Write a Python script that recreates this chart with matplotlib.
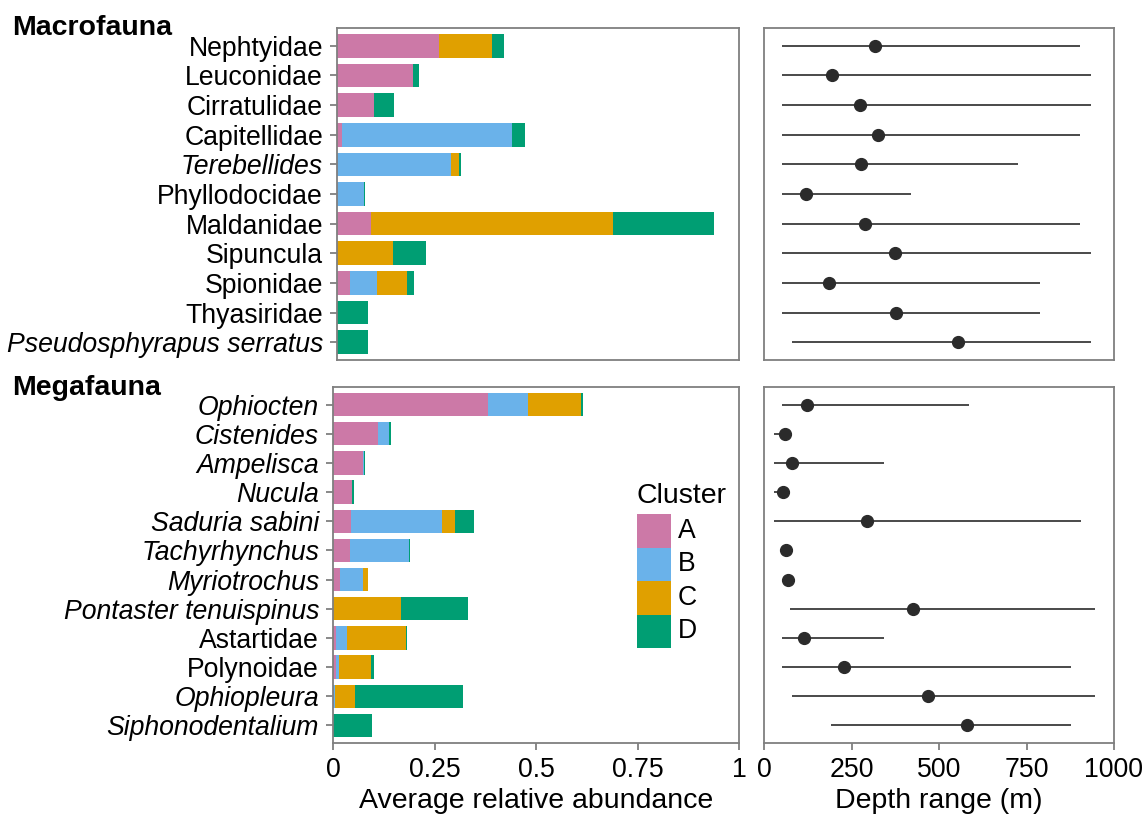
import numpy as np
import matplotlib
matplotlib.use('Agg')
import matplotlib.pyplot as plt
from matplotlib.patches import Rectangle

plt.rcParams['font.family'] = ['Liberation Sans', 'DejaVu Sans']

# cluster colours
clusters = ['A', 'B', 'C', 'D']
colors = ['#CC79A7', '#6AB2EA', '#E0A000', '#009E73']

# macrofauna taxa (top to bottom)
macro_taxa = ['Nephtyidae', 'Leuconidae', 'Cirratulidae', 'Capitellidae',
              'Terebellides', 'Phyllodocidae', 'Maldanidae', 'Sipuncula',
              'Spionidae', 'Thyasiridae', 'Pseudosphyrapus serratus']
macro_italic = [False, False, False, False, True, False, False, False,
                False, False, True]
macro_A = [0.254, 0.189, 0.091, 0.012, 0.000, 0.000, 0.084, 0.000, 0.032, 0.000, 0.000]
macro_B = [0.000, 0.000, 0.000, 0.424, 0.283, 0.066, 0.000, 0.000, 0.067, 0.000, 0.000]
macro_C = [0.132, 0.000, 0.000, 0.000, 0.020, 0.000, 0.603, 0.139, 0.075, 0.000, 0.000]
macro_D = [0.030, 0.015, 0.052, 0.032, 0.005, 0.003, 0.252, 0.082, 0.017, 0.076, 0.076]
macro_dmin = [50, 50, 50, 50, 50, 52, 50, 50, 50, 52, 81]
macro_dmax = [903, 933, 933, 903, 726, 421, 903, 933, 789, 789, 933]
macro_dmean = [316, 194, 274, 326, 278, 120, 289, 374, 185, 378, 555]

# megafauna taxa (top to bottom)
mega_taxa = ['Ophiocten', 'Cistenides', 'Ampelisca', 'Nucula', 'Saduria sabini',
             'Tachyrhynchus', 'Myriotrochus', 'Pontaster tenuispinus',
             'Astartidae', 'Polynoidae', 'Ophiopleura', 'Siphonodentalium']
mega_italic = [True, True, True, True, True, True, True, True,
               False, False, True, True]
mega_A = [0.382, 0.112, 0.073, 0.048, 0.045, 0.043, 0.018, 0.000, 0.008, 0.008, 0.000, 0.000]
mega_B = [0.099, 0.027, 0.003, 0.000, 0.223, 0.143, 0.057, 0.000, 0.027, 0.007, 0.006, 0.000]
mega_C = [0.129, 0.000, 0.000, 0.000, 0.032, 0.000, 0.010, 0.167, 0.146, 0.079, 0.049, 0.000]
mega_D = [0.005, 0.003, 0.002, 0.003, 0.047, 0.003, 0.002, 0.166, 0.002, 0.007, 0.265, 0.097]
mega_dmin = [50, 29, 29, 29, 29, 55, 55, 73, 50, 50, 80, 190]
mega_dmax = [586, 78, 342, 65, 907, 75, 88, 946, 342, 876, 946, 876]
mega_dmean = [124, 61, 79, 55, 293, 63, 68, 427, 114, 228, 469, 579]

W, H = 1147, 817
fig = plt.figure(figsize=(W / 100, H / 100), dpi=100)

def px(l, t, r, b):
    return [l / W, 1 - b / H, (r - l) / W, (b - t) / H]

ax_mb = fig.add_axes(px(337, 28, 739, 360))
ax_gb = fig.add_axes(px(333, 387, 739, 743))
ax_md = fig.add_axes(px(764, 28, 1114, 360))
ax_gd = fig.add_axes(px(764, 387, 1114, 743))

spine_c = '#7f7f7f'
for ax in [ax_mb, ax_gb, ax_md, ax_gd]:
    for s in ax.spines.values():
        s.set_color(spine_c)
        s.set_linewidth(1.3)
    ax.tick_params(color=spine_c, width=1.3, length=5, labelsize=19.2,
                   labelcolor='black', pad=5)


def bars(ax, taxa, italic, parts):
    y = np.arange(len(taxa))
    left = np.zeros(len(taxa))
    for vals, c in zip(parts, colors):
        vals = np.array(vals)
        ax.barh(y, vals, left=left, height=0.8, color=c, linewidth=0)
        left += vals
    ax.set_yticks(y)
    ax.set_yticklabels(taxa)
    for lab, it in zip(ax.get_yticklabels(), italic):
        if it:
            lab.set_style('italic')
    ax.set_xlim(0, 1)
    ax.set_ylim(len(taxa) - 1 + 0.6, -0.6)


def depth(ax, dmin, dmax, dmean):
    y = np.arange(len(dmin))
    ax.hlines(y, dmin, dmax, color='#2b2b2b', lw=1.2)
    ax.plot(dmean, y, 'o', color='#2b2b2b', ms=8.5)
    ax.set_yticks([])
    ax.set_xlim(0, 1000)
    ax.set_ylim(len(dmin) - 1 + 0.6, -0.6)


bars(ax_mb, macro_taxa, macro_italic, [macro_A, macro_B, macro_C, macro_D])
bars(ax_gb, mega_taxa, mega_italic, [mega_A, mega_B, mega_C, mega_D])
depth(ax_md, macro_dmin, macro_dmax, macro_dmean)
depth(ax_gd, mega_dmin, mega_dmax, mega_dmean)

for ax in [ax_mb, ax_md]:
    ax.tick_params(bottom=False, labelbottom=False)

ax_gb.set_xticks([0, 0.25, 0.5, 0.75, 1])
ax_gb.set_xticklabels(['0', '0.25', '0.5', '0.75', '1'])
ax_gd.set_xticks([0, 250, 500, 750, 1000])
ax_gd.set_xticklabels(['0', '250', '500', '750', '1000'])
ax_gb.set_xlabel('Average relative abundance', fontsize=20.5, labelpad=4)
ax_gd.set_xlabel('Depth range (m)', fontsize=20.5, labelpad=4)

fig.text(12 / W, 1 - 28 / H, 'Macrofauna', fontsize=20.5, fontweight='bold',
         va='center', ha='left')
fig.text(12 / W, 1 - 388 / H, 'Megafauna', fontsize=20.5, fontweight='bold',
         va='center', ha='left')

# legend drawn by hand: title, colour keys and labels
key_x, key_top, key_w, key_h = 637, 514, 34, 33.5
fig.text(key_x / W, 1 - 503 / H, 'Cluster', fontsize=20.5,
         ha='left', va='baseline')
for i, (c, k) in enumerate(zip(colors, clusters)):
    top = key_top + i * key_h
    fig.add_artist(Rectangle((key_x / W, 1 - (top + key_h) / H),
                             key_w / W, key_h / H, facecolor=c,
                             edgecolor='none', transform=fig.transFigure))
    fig.text((key_x + key_w + 7) / W, 1 - (top + key_h / 2) / H, k,
             fontsize=19.2, ha='left', va='center')

fig.savefig('out.png', dpi=100)
